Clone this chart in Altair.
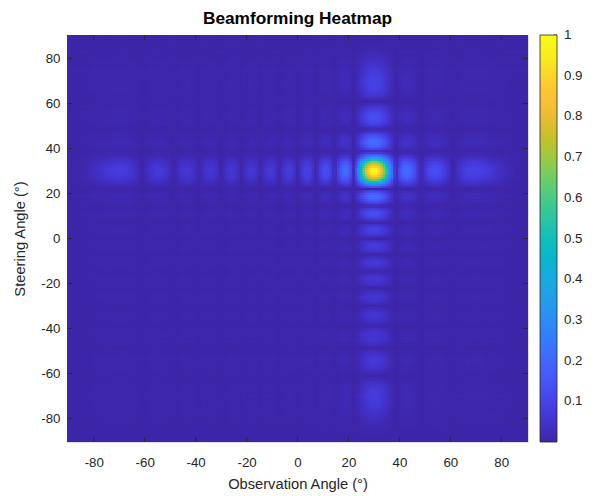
import altair as alt
import pandas as pd

# Grid of angles (degrees) shared by the observation and steering axes
ANGLES = list(range(-90, 91))

# Normalised array gain versus angle, one value per degree from -90 to 90
GAIN = [
    0.0, 0.0003, 0.0013, 0.0030, 0.0054, 0.0084, 0.0120, 0.0163, 0.0211, 0.0264,
    0.0322, 0.0383, 0.0447, 0.0511, 0.0574, 0.0635, 0.0690, 0.0738, 0.0776, 0.0800,
    0.0809, 0.0801, 0.0771, 0.0720, 0.0647, 0.0551, 0.0434, 0.0299, 0.0150, 0.0007,
    0.0166, 0.0320, 0.0458, 0.0574, 0.0658, 0.0703, 0.0704, 0.0659, 0.0567, 0.0435,
    0.0268, 0.0080, 0.0116, 0.0302, 0.0463, 0.0581, 0.0645, 0.0645, 0.0580, 0.0453,
    0.0277, 0.0069, 0.0148, 0.0348, 0.0508, 0.0605, 0.0626, 0.0564, 0.0428, 0.0231,
    0.0, 0.0233, 0.0435, 0.0574, 0.0628, 0.0586, 0.0452, 0.0244, 0.0006, 0.0260,
    0.0475, 0.0615, 0.0652, 0.0577, 0.0400, 0.0148, 0.0137, 0.0406, 0.0607, 0.0704,
    0.0674, 0.0518, 0.0258, 0.0059, 0.0378, 0.0638, 0.0788, 0.0793, 0.0645, 0.0365,
    0.0, 0.0386, 0.0720, 0.0935, 0.0982, 0.0842, 0.0529, 0.0088, 0.0406, 0.0865,
    0.1198, 0.1334, 0.1229, 0.0879, 0.0319, 0.0371, 0.1087, 0.1706, 0.2107, 0.2186,
    0.1876, 0.1149, 0.0031, 0.1406, 0.3064, 0.4799, 0.6464, 0.7923, 0.9051, 0.9759,
    1.0, 0.9765, 0.9089, 0.8036, 0.6709, 0.5211, 0.3660, 0.2160, 0.0805, 0.0336,
    0.1214, 0.1812, 0.2131, 0.2195, 0.2043, 0.1723, 0.1289, 0.0795, 0.0288, 0.0190,
    0.0604, 0.0935, 0.1167, 0.1299, 0.1334, 0.1283, 0.1157, 0.0975, 0.0753, 0.0509,
    0.0257, 0.0011, 0.0219, 0.0425, 0.0600, 0.0743, 0.0852, 0.0927, 0.0971, 0.0988,
    0.0980, 0.0951, 0.0905, 0.0847, 0.0780, 0.0707, 0.0631, 0.0553, 0.0479, 0.0406,
    0.0338, 0.0274, 0.0217, 0.0167, 0.0123, 0.0085, 0.0054, 0.0031, 0.0014, 0.0003,
    0.0,
]

AXIS_TICKS = [-80, -60, -40, -20, 0, 20, 40, 60, 80]
CBAR_TICKS = [0.1, 0.2, 0.3, 0.4, 0.5, 0.6, 0.7, 0.8, 0.9, 1.0]

# Parula colour map, evenly spaced stops
PARULA = [
    "#3e26a8", "#4332cb", "#4741e5", "#4852f4", "#4563fd", "#3875fe",
    "#2e87f7", "#2797eb", "#20a5e3", "#12b1d6", "#02bac3", "#24c1ae",
    "#37c897", "#57cc7a", "#81cc59", "#abc739", "#d1bf27", "#f0ba36",
    "#fec338", "#fad62d", "#f6ef20", "#f9fb15",
]

# Response for every (observation, steering) pair
rows = []
for steer, g_s in zip(ANGLES, GAIN):
    for obs, g_o in zip(ANGLES, GAIN):
        rows.append((obs, steer, round(g_o * g_s, 6)))
grid = pd.DataFrame(rows, columns=["obs", "steer", "p"])

W, H = 461, 407
FONT = "Liberation Sans, Arial, Helvetica, sans-serif"
INK = "#262626"
DOM = [ANGLES[0] - 0.5, ANGLES[-1] + 0.5]
TICK_LEN = 5
CB_X, CB_W = 473, 17

axis_text = dict(
    labelFont=FONT, labelFontSize=13.3, labelColor=INK,
    titleFont=FONT, titleFontSize=14.7, titleColor=INK, titleFontWeight="normal",
    grid=False, domain=False, ticks=False, tickSize=0,
    labelExpr="replace(datum.label, '−', '-')",
)

ang_x = alt.Scale(domain=DOM, nice=False, zero=False)
ang_y = alt.Scale(domain=DOM, nice=False, zero=False)
cbar_y = alt.Scale(domain=[0, 1], nice=False, zero=False)

# Each cell is drawn one step wider/taller; the next cell covers the excess,
# which avoids hairline seams between neighbouring rectangles.
heat = (
    alt.Chart(grid)
    .transform_calculate(
        x0="datum.obs - 0.5", x1="datum.obs + 1.5",
        y0="datum.steer - 0.5", y1="datum.steer + 1.5",
    )
    .mark_rect(clip=True, strokeWidth=0)
    .encode(
        x=alt.X(
            "x0:Q", scale=ang_x,
            axis=alt.Axis(
                values=AXIS_TICKS, title="Observation Angle (°)",
                labelPadding=13, titlePadding=8, **axis_text,
            ),
        ),
        x2="x1:Q",
        y=alt.Y(
            "y0:Q", scale=ang_y,
            axis=alt.Axis(
                values=AXIS_TICKS, title="Steering Angle (°)",
                labelPadding=7, titlePadding=13, **axis_text,
            ),
        ),
        y2="y1:Q",
        color=alt.Color(
            "p:Q",
            scale=alt.Scale(domain=[0, 1], range=PARULA, interpolate="rgb"),
            # gradient only; its labels are drawn by the text layer below
            legend=alt.Legend(
                orient="none", legendX=CB_X, legendY=0, direction="vertical",
                title=None, labelExpr="''", labelOpacity=0, padding=0,
                gradientLength=H, gradientThickness=CB_W,
                gradientStrokeColor=INK, gradientStrokeWidth=0.8,
            ),
        ),
    )
)

tick_df = pd.DataFrame({"t": AXIS_TICKS})
cbar_df = pd.DataFrame({"v": CBAR_TICKS})
tick_style = dict(color=INK, strokeWidth=0.8)

bottom_ticks = alt.Chart(tick_df).mark_rule(**tick_style).encode(
    x=alt.X("t:Q", scale=ang_x, axis=None),
    y=alt.value(H), y2=alt.value(H - TICK_LEN),
)
top_ticks = alt.Chart(tick_df).mark_rule(**tick_style).encode(
    x=alt.X("t:Q", scale=ang_x, axis=None),
    y=alt.value(0), y2=alt.value(TICK_LEN),
)
left_ticks = alt.Chart(tick_df).mark_rule(**tick_style).encode(
    y=alt.Y("t:Q", scale=ang_y, axis=None),
    x=alt.value(0), x2=alt.value(TICK_LEN),
)
right_ticks = alt.Chart(tick_df).mark_rule(**tick_style).encode(
    y=alt.Y("t:Q", scale=ang_y, axis=None),
    x=alt.value(W - TICK_LEN), x2=alt.value(W),
)

# Colour-bar ticks and labels share a 0..1 scale spanning the bar height
cbar_ticks = alt.Chart(cbar_df).mark_rule(**tick_style).encode(
    y=alt.Y("v:Q", scale=cbar_y, axis=None),
    x=alt.value(CB_X + CB_W - 3), x2=alt.value(CB_X + CB_W),
)
cbar_labels = alt.Chart(cbar_df).mark_text(
    align="left", baseline="middle", font=FONT, fontSize=13.3, color=INK,
).encode(
    y=alt.Y("v:Q", scale=cbar_y, axis=None),
    x=alt.value(CB_X + CB_W + 7),
    text=alt.Text("v:Q", format="~g"),
)

chart = (
    alt.layer(heat, bottom_ticks, top_ticks, left_ticks, right_ticks,
              cbar_ticks, cbar_labels)
    .resolve_scale(y="independent")
    .resolve_axis(x="independent", y="independent")
    .properties(
        width=W, height=H,
        title=alt.TitleParams(
            "Beamforming Heatmap", font=FONT, fontSize=17.3, fontWeight="bold",
            color="#000000", anchor="middle", frame="group", offset=1,
        ),
        autosize=alt.AutoSizeParams(type="none"),
        padding={"left": 67, "top": 35, "right": 595 - 67 - W, "bottom": 496 - 35 - H},
    )
    .configure_view(stroke=INK, strokeWidth=0.8)
    .configure(background="white")
)

chart.save("out.html", embed_options={"renderer": "svg", "actions": False})
